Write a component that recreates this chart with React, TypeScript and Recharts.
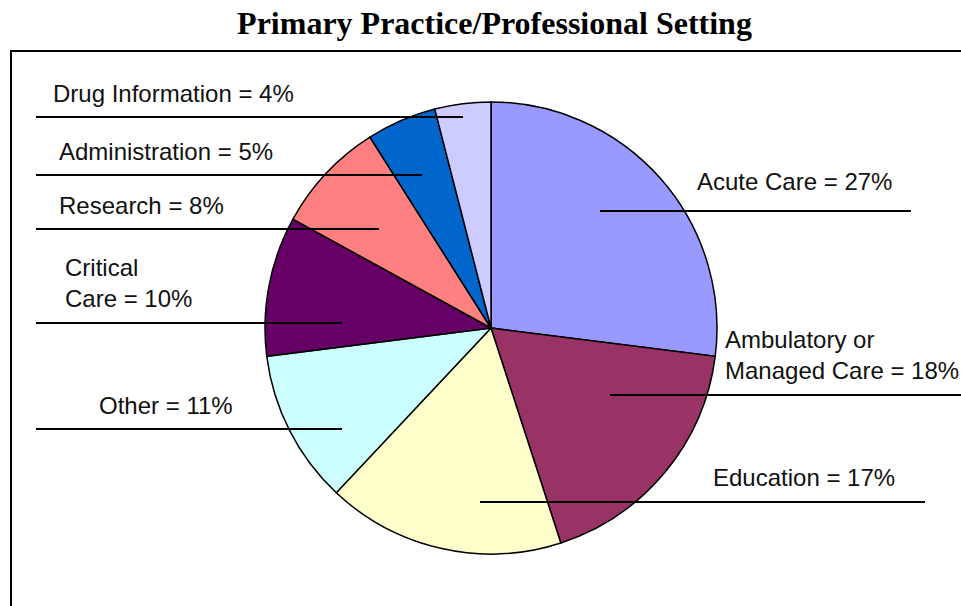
import React from 'react'
import { PieChart, Pie, Cell } from 'recharts'

const categories = [
  'Acute Care',
  'Ambulatory or Managed Care',
  'Education',
  'Other',
  'Critical Care',
  'Research',
  'Administration',
  'Drug Information',
]
const shares = [27, 18, 17, 11, 10, 8, 5, 4]
const labelLines = [
  ['Acute Care = 27%'],
  ['Ambulatory or', 'Managed Care = 18%'],
  ['Education = 17%'],
  ['Other = 11%'],
  ['Critical', 'Care = 10%'],
  ['Research = 8%'],
  ['Administration = 5%'],
  ['Drug Information = 4%'],
]
const sliceColors = ['#9999FF', '#993366', '#FFFFCC', '#CCFFFF', '#660066', '#FF8080', '#0066CC', '#CCCCFF']

const data = categories.map((name, i) => ({ name, value: shares[i] }))

// label placement relative to pie centre (text left / first line centre, leader line y and x extents)
const labelLayout = [
  { tx: 206, ty: -147, ly: -117, x1: 109, x2: 420 },
  { tx: 234, ty: 11, ly: 67, x1: 119, x2: 472 },
  { tx: 222, ty: 149, ly: 174, x1: -11, x2: 434 },
  { tx: -392, ty: 77, ly: 101, x1: -455, x2: -149 },
  { tx: -426, ty: -61, ly: -5, x1: -455, x2: -149 },
  { tx: -432, ty: -123, ly: -99, x1: -455, x2: -112 },
  { tx: -432, ty: -177, ly: -153, x1: -455, x2: -69 },
  { tx: -438, ty: -235, ly: -211, x1: -455, x2: -28 },
]

const renderLabel = (props: any) => {
  const { cx, cy, index } = props
  const l = labelLayout[index]
  const lines = labelLines[index]
  return (
    <g key={`lbl-${index}`}>
      <line x1={cx + l.x1} x2={cx + l.x2} y1={cy + l.ly} y2={cy + l.ly} stroke="#000" strokeWidth={2} />
      {lines.map((t, j) => (
        <text
          key={j}
          x={cx + l.tx}
          y={cy + l.ty + j * 31 + 8.5}
          fontFamily="Liberation Sans, Arial, sans-serif"
          fontSize={24}
          fill="#111"
        >
          {t}
        </text>
      ))}
    </g>
  )
}

export default function App() {
  return (
    <div style={{ position: 'absolute', left: 0, top: 0, width: 961, height: 606, background: '#fff', overflow: 'hidden' }}>
      <svg width={961} height={606} style={{ position: 'absolute', left: 0, top: 0 }}>
        <text
          x={494.5}
          y={34}
          textAnchor="middle"
          fontFamily="Liberation Serif, Times New Roman, serif"
          fontWeight="bold"
          fontSize={32}
          fill="#000"
        >
          Primary Practice/Professional Setting
        </text>
        <path d="M11 610 L11 51 L965 51" fill="none" stroke="#000" strokeWidth={2} />
      </svg>
      <div style={{ position: 'absolute', left: 0, top: 0 }}>
        <PieChart width={961} height={606} margin={{ top: 0, right: 0, bottom: 0, left: 0 }}>
          <Pie
            data={data}
            dataKey="value"
            nameKey="name"
            cx={491}
            cy={328}
            outerRadius={226}
            startAngle={90}
            endAngle={-270}
            stroke="#000"
            strokeWidth={1.5}
            label={renderLabel}
            labelLine={false}
            isAnimationActive={false}
          >
            {data.map((d, i) => (
              <Cell key={d.name} fill={sliceColors[i]} />
            ))}
          </Pie>
        </PieChart>
      </div>
    </div>
  )
}
